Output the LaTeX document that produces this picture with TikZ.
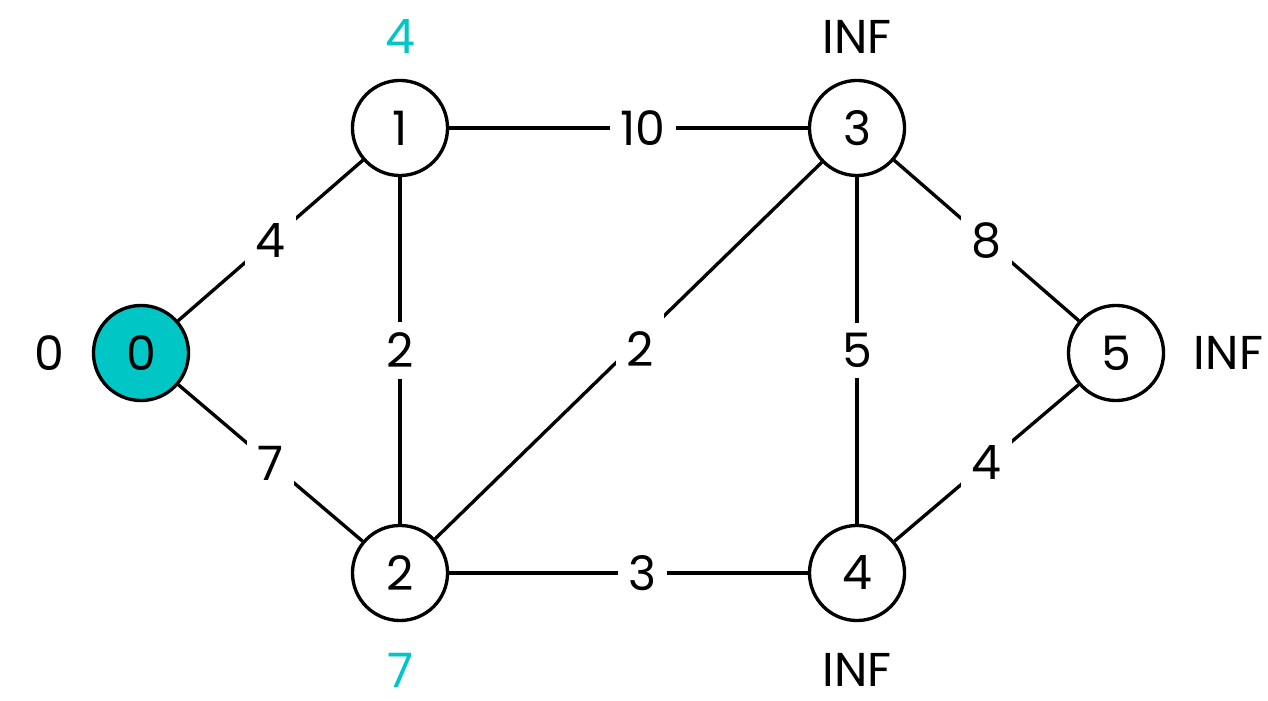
\documentclass[tikz,border=0pt]{standalone}
\usepackage{fontspec}
\setmainfont{Poppins}
\usetikzlibrary{positioning}
\definecolor{srcteal}{RGB}{0,198,198}

\begin{document}
\begin{tikzpicture}[x=0.01cm, y=-0.01cm,
    vertex/.style={circle, draw, line width=0.95pt, minimum size=0.95cm, inner sep=0pt, font=\fontsize{13.5}{16}\selectfont},
    weight/.style={fill=white, inner sep=3pt, font=\fontsize{13.5}{16}\selectfont},
    dist/.style={inner sep=0pt, font=\fontsize{13.5}{16}\selectfont},
    edge/.style={line width=0.95pt}]
    \useasboundingbox (0,0) rectangle (1268,701);

    % 顶点
    \node[vertex, fill=srcteal] (v0) at (141,353) {0};
    \node[vertex] (v1) at (400,128) {1};
    \node[vertex] (v2) at (400,573) {2};
    \node[vertex] (v3) at (857,128) {3};
    \node[vertex] (v4) at (857,573) {4};
    \node[vertex] (v5) at (1116,353) {5};

    % 距离标注
    \node[dist, left=0.27cm of v0] (d0) {0};
    \node[dist, above=0.25cm of v1, text=srcteal] (d1) {4};
    \node[dist, below=0.3cm of v2, text=srcteal] (d2) {7};
    \node[dist, above=0.25cm of v3] (d3) {INF};
    \node[dist, below=0.3cm of v4] (d4) {INF};
    \node[dist, right=0.28cm of v5] (d5) {INF};

    % 边和权值
    \draw[edge] (v0) -- node[weight] {4} (v1);
    \draw[edge] (v0) -- node[weight] {7} (v2);
    \draw[edge] (v1) -- node[weight] {2} (v2);
    \draw[edge] (v1) -- node[weight, pos=0.54] {10} (v3);
    \draw[edge] (v2) -- node[weight, pos=0.53, text height=0.55cm] {2} (v3);
    \draw[edge] (v2) -- node[weight, pos=0.54] {3} (v4);
    \draw[edge] (v3) -- node[weight] {5} (v4);
    \draw[edge] (v3) -- node[weight] {8} (v5);
    \draw[edge] (v4) -- node[weight] {4} (v5);
\end{tikzpicture}
\end{document}
